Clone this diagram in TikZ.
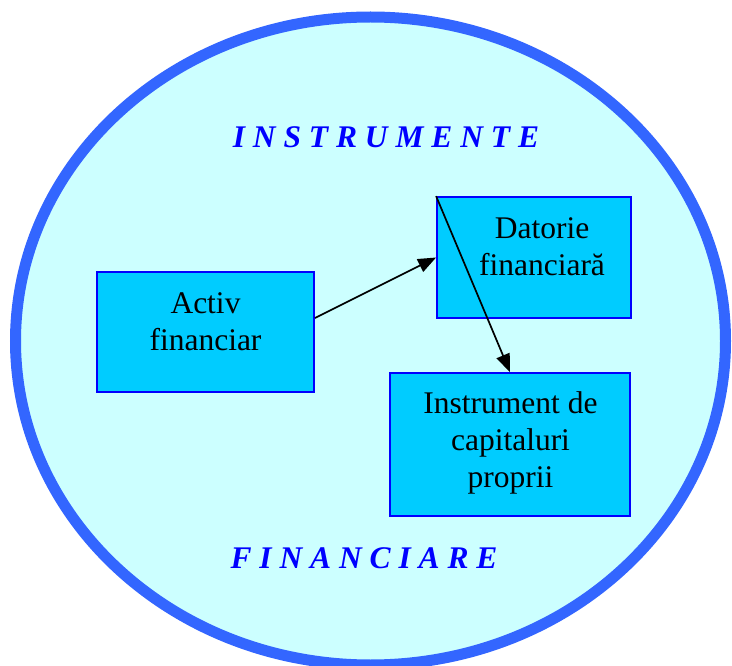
\documentclass[tikz,border=0pt]{standalone}
\usepackage{fontspec}
\setmainfont{Liberation Serif}
\usetikzlibrary{arrows.meta,shapes.geometric}
\definecolor{ringblue}{HTML}{3366FF}
\definecolor{ringfill}{HTML}{CCFFFF}
\definecolor{boxfill}{HTML}{00CCFF}
\definecolor{boxline}{HTML}{0000FF}
\tikzset{%
  ring/.style    = {shape=ellipse, draw=ringblue, fill=ringfill,%
                    line width=11pt, inner sep=0pt},%
  finbox/.style  = {shape=rectangle, draw=boxline, fill=boxfill,%
                    line width=1.8pt, inner sep=0pt},%
  boxtext/.style = {align=center, inner sep=0pt,%
                    font=\fontsize{31.5}{37}\selectfont},%
  heading/.style = {anchor=base, inner sep=0pt, text=boxline,%
                    font=\fontsize{31.5}{37}\selectfont\bfseries\itshape},%
  link/.style    = {-{Triangle[length=18pt,width=14pt]}, line width=1.7pt}%
}

\begin{document}
\begin{tikzpicture}[x=1pt, y=-1pt]
  \useasboundingbox (0,0) rectangle (732,666);
  % -------------- outer ring --------------------------------------
  \node[ring, minimum width=710pt, minimum height=648pt] (frame) at (370.5,341) {};
  \node[heading] (top) at (386,148) {I N S T R U M E N T E};
  \node[heading] (bottom) at (364,568) {F I N A N C I A R E};
  % -------------- boxes -------------------------------------------
  \node[finbox, minimum width=217pt, minimum height=120pt] (activ) at (205.5,332) {};
  \node[boxtext] (activtxt) at (205.5,322) {Activ\\financiar};
  \node[finbox, minimum width=194pt, minimum height=121pt] (datorie) at (534,257.5) {};
  \node[boxtext] (datorietxt) at (542,247) {Datorie\\financiară};
  \node[finbox, minimum width=240pt, minimum height=143pt] (instrument) at (510,444.5) {};
  \node[boxtext] (instrumenttxt) at (510.5,443) {Instrument de\\capitaluri\\proprii};
  % -------------- arrows ------------------------------------------
  \draw[link] ([yshift=14pt]activ.east) -- (datorie.west);
  \draw[link] (datorie.north west) -- (instrument.north);
\end{tikzpicture}
\end{document}
